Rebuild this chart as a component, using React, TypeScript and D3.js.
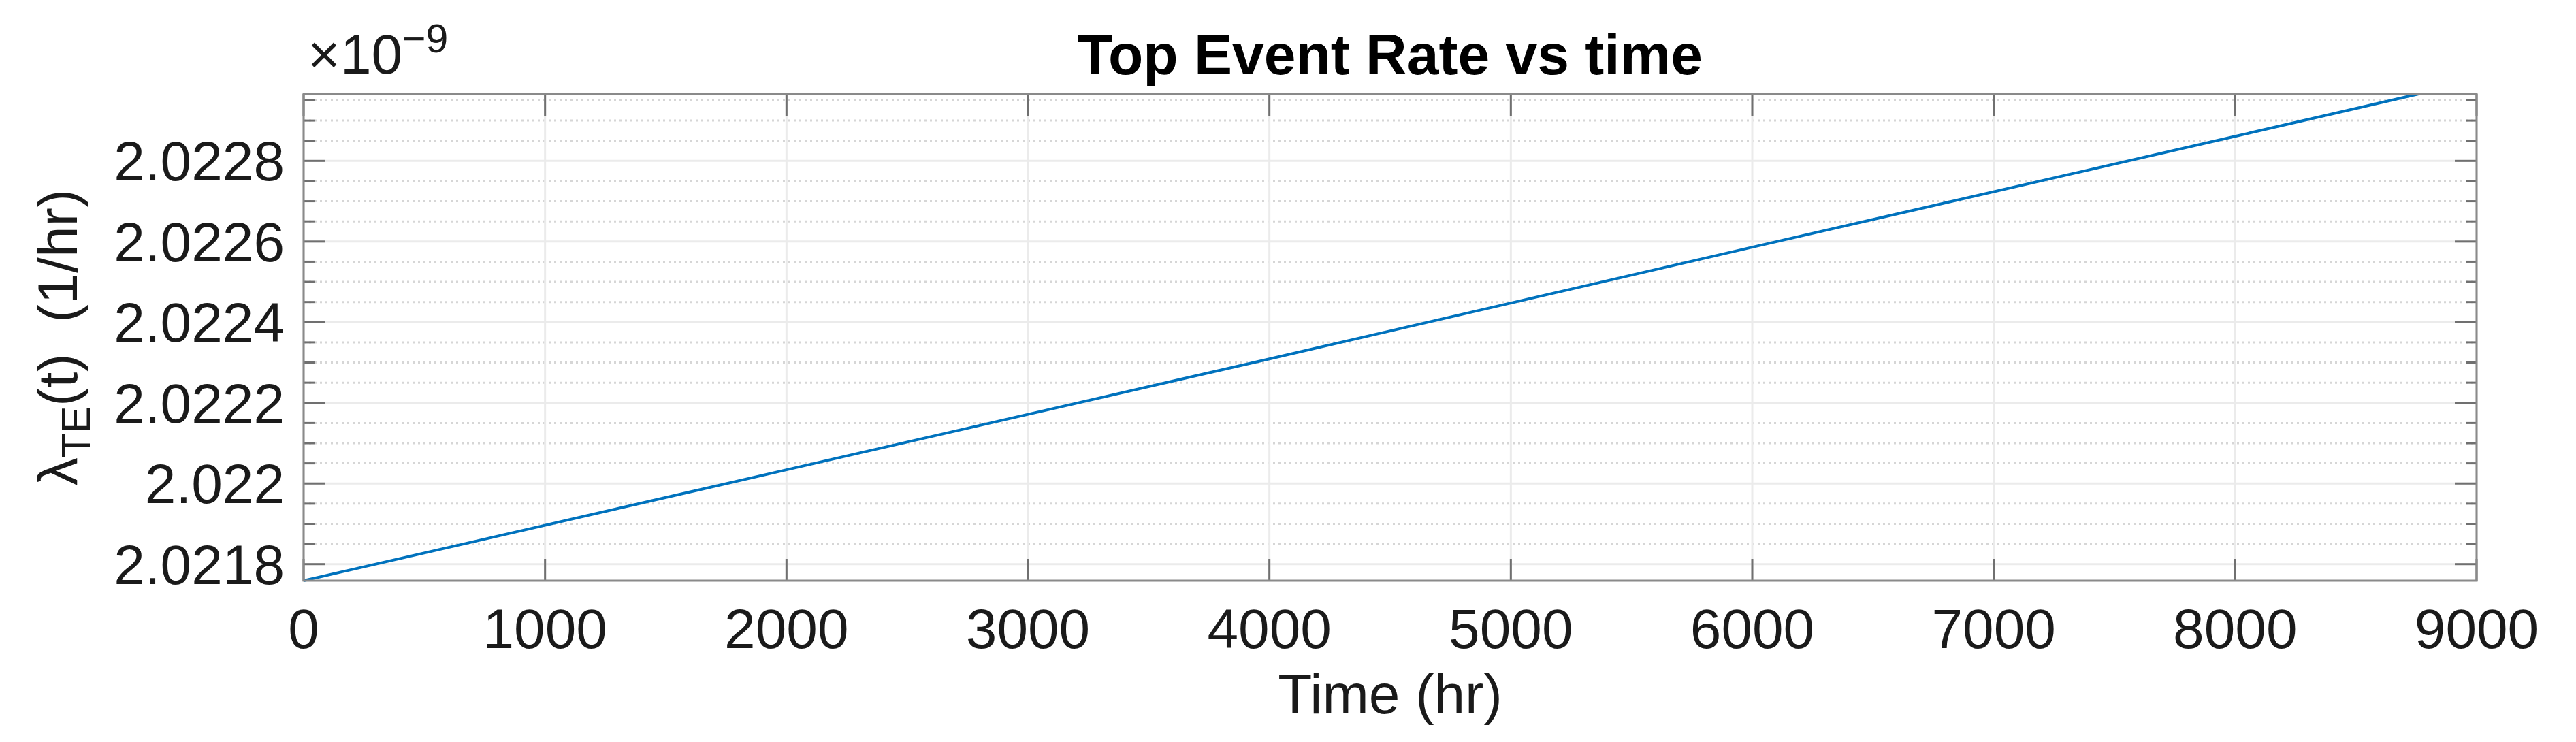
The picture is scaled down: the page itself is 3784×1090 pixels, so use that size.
import React from 'react';
import * as d3 from 'd3';

// ---- data (rate in units of 1e-9 per hour) ----
const timeHr = [0, 2000, 4000, 6000, 8000, 8760];
const rateE9 = [2.021759, 2.022034, 2.022309, 2.022586, 2.022861, 2.022966];
const xTicks = [0, 1000, 2000, 3000, 4000, 5000, 6000, 7000, 8000, 9000];
const yTicks = [2.0218, 2.022, 2.0222, 2.0224, 2.0226, 2.0228];
const yMinorStep = 0.00005;
const xDomain = [0, 9000];
const titleText = 'Top Event Rate vs time';
const xLabelText = 'Time (hr)';
const exponentText = '−9';

const FONT = '"Liberation Sans", Arial, Helvetica, sans-serif';

export default function App() {
  const W = 3784;
  const H = 1090;
  const L = 446, R = 3638, T = 138, B = 853;

  const x = d3.scaleLinear().domain(xDomain).range([L, R]);
  const ext = d3.extent(rateE9) as [number, number];
  const y = d3.scaleLinear().domain(ext).range([B, T]);

  const kStart = Math.ceil(ext[0] / yMinorStep - 1e-6);
  const kEnd = Math.floor(ext[1] / yMinorStep + 1e-6);
  const minorTicks: number[] = [];
  for (let k = kStart; k <= kEnd; k++) {
    const v = k * yMinorStep;
    if (!yTicks.some((t) => Math.abs(t - v) < 1e-9)) minorTicks.push(v);
  }

  const pts = timeHr.map((t, i) => [t, rateE9[i]] as [number, number]);
  const line = d3
    .line<[number, number]>()
    .x((d) => x(d[0]))
    .y((d) => y(d[1]));

  const fmtY = (v: number) => String(Number(v.toFixed(4)));

  const gridMajor = '#ebebeb';
  const gridMinor = '#d6d6d6';
  const boxColor = '#8a8a8a';
  const tickColor = '#707070';
  const textColor = '#1a1a1a';
  const fs = 82;

  const cx = (L + R) / 2;
  const cy = (T + B) / 2;

  return (
    <svg
      width={W}
      height={H}
      viewBox={`0 0 ${W} ${H}`}
      style={{ position: 'absolute', left: 0, top: 0, background: '#fff' }}
      fontFamily={FONT}
    >
      <rect x={0} y={0} width={W} height={H} fill="#fff" />
      {/* minor y grid */}
      {minorTicks.map((v) => (
        <line
          key={'mg' + v}
          x1={L}
          x2={R}
          y1={y(v)}
          y2={y(v)}
          stroke={gridMinor}
          strokeWidth={3}
          strokeDasharray="3 5"
        />
      ))}
      {/* major y grid */}
      {yTicks.map((v) => (
        <line key={'yg' + v} x1={L} x2={R} y1={y(v)} y2={y(v)} stroke={gridMajor} strokeWidth={3} />
      ))}
      {/* major x grid */}
      {xTicks.map((v) => (
        <line key={'xg' + v} x1={x(v)} x2={x(v)} y1={T} y2={B} stroke={gridMajor} strokeWidth={3} />
      ))}

      {/* data line */}
      <path d={line(pts) || ''} fill="none" stroke="#0072BD" strokeWidth={4} />

      {/* ticks */}
      {xTicks.map((v) => (
        <g key={'xt' + v}>
          <line x1={x(v)} x2={x(v)} y1={B} y2={B - 32} stroke={tickColor} strokeWidth={3} />
          <line x1={x(v)} x2={x(v)} y1={T} y2={T + 32} stroke={tickColor} strokeWidth={3} />
        </g>
      ))}
      {yTicks.map((v) => (
        <g key={'yt' + v}>
          <line x1={L} x2={L + 32} y1={y(v)} y2={y(v)} stroke={tickColor} strokeWidth={3} />
          <line x1={R} x2={R - 32} y1={y(v)} y2={y(v)} stroke={tickColor} strokeWidth={3} />
        </g>
      ))}
      {minorTicks.map((v) => (
        <g key={'ymt' + v}>
          <line x1={L} x2={L + 16} y1={y(v)} y2={y(v)} stroke={tickColor} strokeWidth={3} />
          <line x1={R} x2={R - 16} y1={y(v)} y2={y(v)} stroke={tickColor} strokeWidth={3} />
        </g>
      ))}

      {/* box */}
      <rect x={L} y={T} width={R - L} height={B - T} fill="none" stroke={boxColor} strokeWidth={3} />

      {/* tick labels */}
      {xTicks.map((v) => (
        <text key={'xl' + v} x={x(v)} y={952} fontSize={fs} textAnchor="middle" fill={textColor}>
          {String(v)}
        </text>
      ))}
      {yTicks.map((v) => (
        <text key={'yl' + v} x={418} y={y(v) + 29} fontSize={fs} textAnchor="end" fill={textColor}>
          {fmtY(v)}
        </text>
      ))}

      {/* exponent */}
      <text x={452} y={108} fontSize={fs} fill={textColor}>
        <tspan>×10</tspan>
        <tspan fontSize={59} dy={-31}>
          {exponentText}
        </tspan>
      </text>

      {/* title */}
      <text x={cx} y={109} fontSize={84} fontWeight="bold" textAnchor="middle" fill="#000">
        {titleText}
      </text>

      {/* x label */}
      <text x={cx} y={1048} fontSize={fs} textAnchor="middle" fill={textColor}>
        {xLabelText}
      </text>

      {/* y label */}
      <text
        transform={`translate(113, ${cy}) rotate(-90)`}
        fontSize={fs}
        textAnchor="middle"
        fill={textColor}
        style={{ whiteSpace: 'pre' }}
        xmlSpace="preserve"
      >
        <tspan>λ</tspan>
        <tspan fontSize={59} dy={19}>
          TE
        </tspan>
        <tspan dy={-19}>{'(t)  (1/hr)'}</tspan>
      </text>
    </svg>
  );
}
